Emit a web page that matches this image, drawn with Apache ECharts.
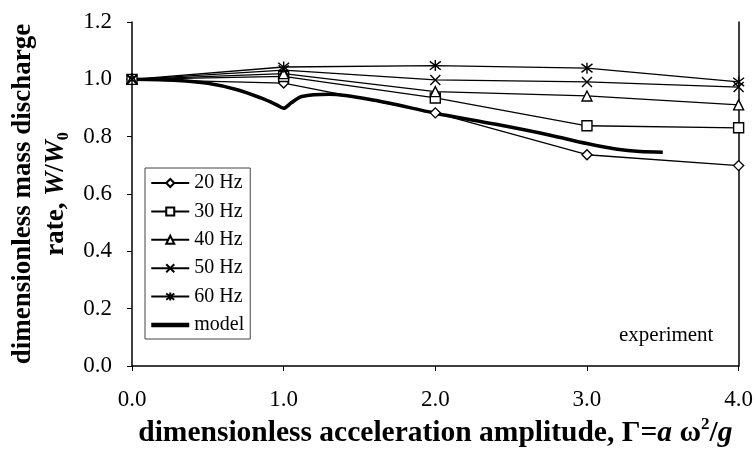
<!DOCTYPE html>
<html>
<head>
<meta charset="utf-8">
<script src="https://cdn.jsdelivr.net/npm/echarts@6/dist/echarts.min.js"></script>
<style>html,body{margin:0;padding:0;background:#fff;}#c{width:756px;height:463px;}</style>
</head>
<body>
<div id="c"></div>
<script>
const xValues = [0, 1, 2, 3, 4];
const hz20 = [1.0, 0.987, 0.883, 0.737, 0.699];
const hz30 = [1.0, 1.01, 0.935, 0.838, 0.831];
const hz40 = [1.0, 1.02, 0.957, 0.942, 0.911];
const hz50 = [1.0, 1.032, 0.998, 0.991, 0.973];
const hz60 = [1.0, 1.043, 1.048, 1.039, 0.991];
const modelX = [0, 0.3, 0.5, 0.7, 0.85, 0.95, 1.0, 1.05, 1.12, 1.3, 1.6, 2.0, 2.4, 2.75, 3.0, 3.2, 3.35, 3.5];
const modelY = [1.0, 0.996, 0.986, 0.963, 0.935, 0.912, 0.899, 0.918, 0.94, 0.948, 0.927, 0.882, 0.843, 0.806, 0.776, 0.756, 0.748, 0.746];
const seriesNames = ['20 Hz', '30 Hz', '40 Hz', '50 Hz', '60 Hz', 'model'];

const pairs = (xs, ys) => xs.map((x, i) => [x, ys[i]]);
const serif = '"Liberation Serif", "DejaVu Serif", serif';
const crossPath = 'path://M0,0L10,10M10,0L0,10';
const starPath = 'path://M0,0L10,10M10,0L0,10M5,-1.5L5,11.5';

function expSeries(name, data, symbol, size) {
  return {
    name: name, type: 'line', data: pairs(xValues, data),
    symbol: symbol, symbolSize: size,
    lineStyle: { color: '#000', width: 1.3 },
    itemStyle: { color: '#fff', borderColor: '#000', borderWidth: 1.4 },
    emphasis: { disabled: true }
  };
}

const chart = echarts.init(document.getElementById('c'), null, { renderer: 'canvas' });
chart.setOption({
  animation: false,
  backgroundColor: '#fff',
  grid: { left: 132, right: 16, top: 22, bottom: 97 },
  xAxis: {
    type: 'value', min: 0, max: 4, interval: 1,
    axisLine: { lineStyle: { color: '#000', width: 1.5 } },
    axisTick: { inside: false, length: 5, lineStyle: { color: '#000' } },
    splitLine: { show: false },
    axisLabel: { color: '#000', fontFamily: serif, fontSize: 23, margin: 22, formatter: v => v.toFixed(1) },
    name: '{a|dimensionless acceleration amplitude, Γ=}{i|a}{a| ω}{p|2}{a|/}{i|g}',
    nameLocation: 'middle', nameGap: 49,
    nameTextStyle: {
      rich: {
        a: { fontFamily: serif, fontWeight: 'bold', fontSize: 29.5, color: '#000', lineHeight: 34 },
        i: { fontFamily: serif, fontWeight: 'bold', fontStyle: 'italic', fontSize: 29.5, color: '#000', lineHeight: 34 },
        p: { fontFamily: serif, fontWeight: 'bold', fontSize: 17, color: '#000', verticalAlign: 'top', lineHeight: 34 }
      }
    }
  },
  yAxis: [{
    type: 'value', min: 0, max: 1.2, interval: 0.2,
    axisLine: { show: true, lineStyle: { color: '#000', width: 1.5 } },
    axisTick: { show: true, inside: false, length: 5, lineStyle: { color: '#000' } },
    splitLine: { show: false },
    axisLabel: { color: '#000', fontFamily: serif, fontSize: 23, margin: 20, formatter: v => v.toFixed(1) },
    name: '{a|dimensionless mass discharge}\n{a|rate, }{i|W}{a|/}{i|W}{s|0}',
    nameLocation: 'middle', nameGap: 54, nameRotate: 90,
    nameTextStyle: {
      align: 'center',
      rich: {
        a: { fontFamily: serif, fontWeight: 'bold', fontSize: 27, color: '#000', lineHeight: 33 },
        i: { fontFamily: serif, fontWeight: 'bold', fontStyle: 'italic', fontSize: 27, color: '#000', lineHeight: 33 },
        s: { fontFamily: serif, fontWeight: 'bold', fontSize: 16, color: '#000', verticalAlign: 'bottom', lineHeight: 33 }
      }
    }
  }, {
    type: 'value', min: 0, max: 1.2, interval: 0.2, position: 'right',
    axisLine: { show: true, lineStyle: { color: '#000', width: 1.5 } },
    axisTick: { show: false }, axisLabel: { show: false }, splitLine: { show: false }
  }],
  legend: {
    orient: 'vertical', left: 145, top: 168,
    data: seriesNames.map(n => n === 'model'
      ? { name: n, itemStyle: { opacity: 0 }, lineStyle: { width: 4.5, color: '#000', opacity: 1 } }
      : n),
    itemWidth: 38, itemHeight: 10, itemGap: 8.4,
    padding: [5, 6, 4, 4],
    borderColor: '#444', borderWidth: 1,
    textStyle: { color: '#000', fontFamily: serif, fontSize: 20, lineHeight: 20 },
    selectedMode: false
  },
  graphic: [{
    type: 'text', left: 619, top: 325,
    style: { text: 'experiment', font: '21px ' + serif, fill: '#000' }
  }],
  series: [
    expSeries('20 Hz', hz20, 'diamond', 10),
    expSeries('30 Hz', hz30, 'rect', 10),
    expSeries('40 Hz', hz40, 'triangle', 10),
    expSeries('50 Hz', hz50, crossPath, 10),
    expSeries('60 Hz', hz60, starPath, 11),
    {
      name: 'model', type: 'line', data: pairs(modelX, modelY),
      symbol: 'none', smooth: 0.3,
      lineStyle: { color: '#000', width: 3.5 },
      itemStyle: { color: '#000' },
      emphasis: { disabled: true }
    }
  ]
});
</script>
</body>
</html>
